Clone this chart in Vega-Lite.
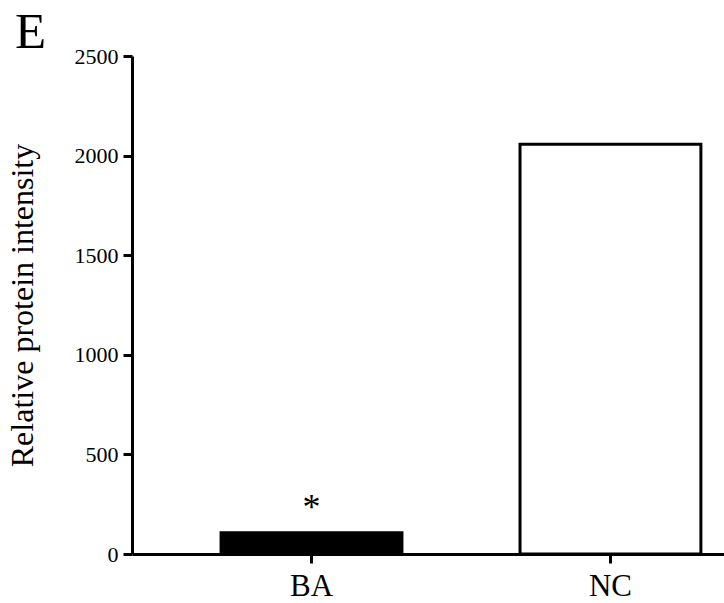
{
  "$schema": "https://vega.github.io/schema/vega-lite/v6.json",
  "autosize": {"type": "none"},
  "padding": {"left": 132, "top": 56, "right": 0, "bottom": 49},
  "width": 592,
  "height": 498,
  "background": "white",
  "title": {
    "text": "E",
    "anchor": "start",
    "frame": "group",
    "font": "Liberation Serif",
    "fontSize": 51,
    "fontWeight": "normal",
    "color": "black",
    "dx": -117,
    "dy": 18,
    "offset": 4
  },
  "config": {
    "view": {"stroke": null},
    "axis": {
      "labelFont": "Liberation Serif",
      "titleFont": "Liberation Serif",
      "labelColor": "black",
      "titleColor": "black",
      "domainColor": "black",
      "tickColor": "black",
      "domainWidth": 3,
      "tickWidth": 3,
      "tickSize": 9,
      "grid": false
    }
  },
  "data": {
    "values": [
      {"group": "BA", "value": 107, "sig": "*"},
      {"group": "NC", "value": 2057, "sig": ""}
    ]
  },
  "encoding": {
    "x": {
      "field": "group",
      "type": "nominal",
      "sort": ["BA", "NC"],
      "scale": {"paddingInner": 0.395, "paddingOuter": 0.1876, "align": 0.794},
      "axis": {
        "title": null,
        "labelAngle": 0,
        "labelFontSize": 31,
        "labelPadding": 8
      }
    },
    "y": {
      "field": "value",
      "type": "quantitative",
      "scale": {"domain": [0, 2500], "nice": false},
      "axis": {
        "title": "Relative protein intensity",
        "values": [0, 500, 1000, 1500, 2000, 2500],
        "format": "d",
        "labelFontSize": 22,
        "labelPadding": 5,
        "titleFontSize": 32,
        "titleFontWeight": "normal",
        "titleBaseline": "alphabetic",
        "titleX": -100,
        "titleY": 249
      }
    }
  },
  "layer": [
    {
      "mark": {"type": "bar", "stroke": "black", "strokeWidth": 3},
      "encoding": {
        "color": {
          "field": "group",
          "type": "nominal",
          "scale": {"domain": ["BA", "NC"], "range": ["black", "white"]},
          "legend": null
        }
      }
    },
    {
      "mark": {
        "type": "text",
        "font": "Liberation Serif",
        "fontSize": 36,
        "baseline": "alphabetic",
        "dy": -14,
        "color": "black"
      },
      "encoding": {
        "text": {"field": "sig"}
      }
    }
  ]
}
